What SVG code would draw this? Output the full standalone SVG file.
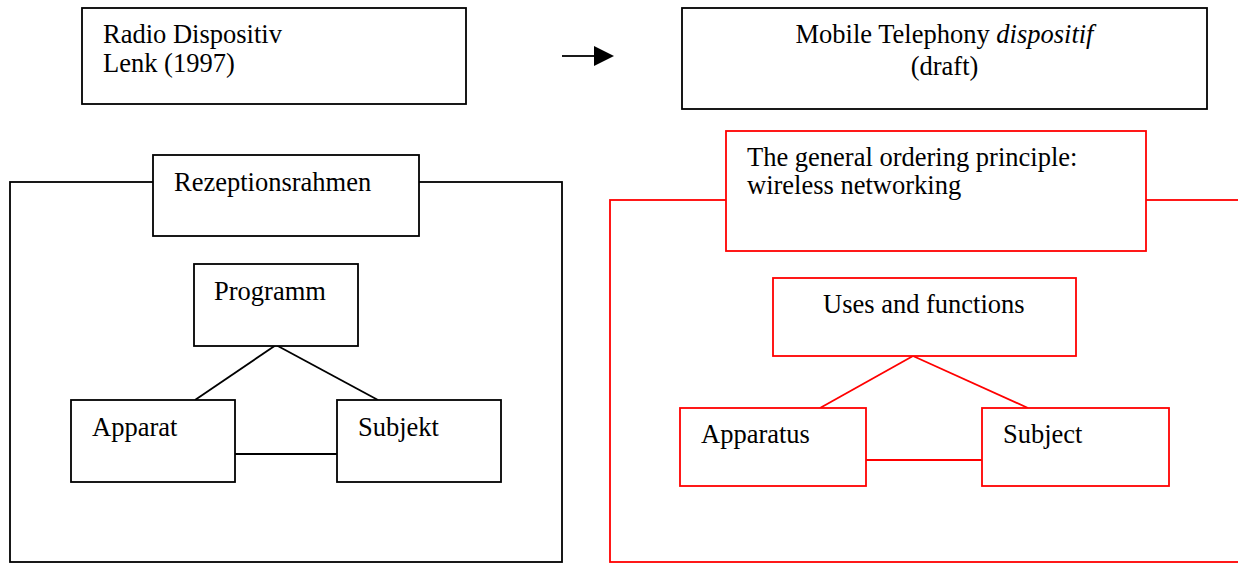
<svg xmlns="http://www.w3.org/2000/svg" width="1238" height="563" viewBox="0 0 1238 563">
  <defs>
    <marker id="arrowhead" viewBox="0 0 20 20" refX="0" refY="10" markerWidth="20" markerHeight="20" markerUnits="userSpaceOnUse" orient="auto">
      <path d="M0,0 L20,10 L0,20 Z" fill="#000"/>
    </marker>
  </defs>
  <style>
    .box { fill: #fff; stroke: #000; stroke-width: 1.8; }
    .rbox { fill: #fff; stroke: #ff0000; stroke-width: 1.8; }
    .frame { fill: none; stroke: #000; stroke-width: 1.8; }
    .rframe { fill: none; stroke: #ff0000; stroke-width: 1.8; }
    .link { stroke: #000; stroke-width: 1.8; fill: none; }
    .rlink { stroke: #ff0000; stroke-width: 1.8; fill: none; }
    text { font-family: "Liberation Serif", "Times New Roman", serif; font-size: 26.5px; fill: #000; }
    .mid { text-anchor: middle; }
  </style>
  <rect width="1238" height="563" fill="#fff"/>

  <!-- outer frames -->
  <rect id="frame-radio" class="frame" x="10" y="182" width="552" height="380"/>
  <rect id="frame-mobile" class="rframe" x="610" y="200" width="640" height="362"/>

  <!-- connectors -->
  <g id="connectors">
    <line x1="562" y1="56" x2="594" y2="56" class="link" marker-end="url(#arrowhead)"/>
    <line x1="276" y1="345" x2="195" y2="400" class="link"/>
    <line x1="276" y1="345" x2="378" y2="400" class="link"/>
    <line x1="235" y1="454" x2="337" y2="454" class="link"/>
    <line x1="913" y1="356" x2="820" y2="408" class="rlink"/>
    <line x1="913" y1="356" x2="1028" y2="408" class="rlink"/>
    <line x1="866" y1="460" x2="982" y2="460" class="rlink"/>
  </g>

  <g id="radio-dispositiv">
    <rect class="box" x="82" y="8" width="384" height="96"/>
    <text x="103" y="43">Radio Dispositiv</text>
    <text x="103" y="72">Lenk (1997)</text>
  </g>

  <g id="mobile-dispositif">
    <rect class="box" x="682" y="8" width="525" height="101"/>
    <text class="mid" x="944.5" y="43">Mobile Telephony <tspan font-style="italic">dispositif</tspan></text>
    <text class="mid" x="944.5" y="75">(draft)</text>
  </g>

  <g id="rezeptionsrahmen">
    <rect class="box" x="153" y="155" width="266" height="81"/>
    <text x="174" y="191">Rezeptionsrahmen</text>
  </g>

  <g id="programm">
    <rect class="box" x="194" y="264" width="164" height="82"/>
    <text x="214" y="300">Programm</text>
  </g>

  <g id="apparat">
    <rect class="box" x="71" y="400" width="164" height="82"/>
    <text x="92" y="436">Apparat</text>
  </g>

  <g id="subjekt">
    <rect class="box" x="337" y="400" width="164" height="82"/>
    <text x="358" y="436">Subjekt</text>
  </g>

  <g id="ordering-principle">
    <rect class="rbox" x="726" y="131" width="420" height="120"/>
    <text x="747" y="166">The general ordering principle:</text>
    <text x="747" y="194">wireless networking</text>
  </g>

  <g id="uses-functions">
    <rect class="rbox" x="773" y="278" width="303" height="78"/>
    <text x="823" y="313">Uses and functions</text>
  </g>

  <g id="apparatus">
    <rect class="rbox" x="680" y="408" width="186" height="78"/>
    <text x="701" y="443">Apparatus</text>
  </g>

  <g id="subject">
    <rect class="rbox" x="982" y="408" width="187" height="78"/>
    <text x="1003" y="443">Subject</text>
  </g>
</svg>
